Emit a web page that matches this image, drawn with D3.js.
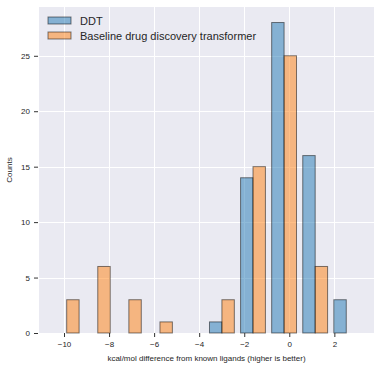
<!DOCTYPE html>
<html>
<head>
<meta charset="utf-8">
<script src="https://cdn.jsdelivr.net/npm/d3@7"></script>
<style>
  body { margin: 0; background: #fff; }
  svg text { font-family: "Liberation Sans", Arial, sans-serif; fill: #262626; }
</style>
</head>
<body>
<div id="chart"></div>
<script>
// histogram bins (left edges, kcal/mol) and counts per series
const binLefts = [-10.57, -9.19, -7.81, -6.43, -5.06, -3.68, -2.30, -0.92, 0.46, 1.84];
const binWidth = 1.378;
const ddtCounts = [0, 0, 0, 0, 0, 1, 14, 28, 16, 3];
const baselineCounts = [3, 6, 3, 1, 0, 3, 15, 25, 6, 0];
const seriesNames = ['DDT', 'Baseline drug discovery transformer'];
const xTicks = [-10, -8, -6, -4, -2, 0, 2];
const yTicks = [0, 5, 10, 15, 20, 25];

const width = 380;
const height = 370;
const margin = { top: 7, right: 6, bottom: 37, left: 39 };

const svg = d3.select('#chart')
  .append('svg')
  .attr('width', width)
  .attr('height', height);

const xScale = d3.scaleLinear()
  .domain([-11.11, 3.76])
  .range([margin.left, width - margin.right]);

const yScale = d3.scaleLinear()
  .domain([0, 29.4])
  .range([height - margin.bottom, margin.top]);

// background
svg.append('rect')
  .attr('x', margin.left)
  .attr('y', margin.top)
  .attr('width', width - margin.left - margin.right)
  .attr('height', height - margin.top - margin.bottom)
  .attr('fill', '#EAEAF2');

// gridlines
const grid = svg.append('g').attr('class', 'grid');
grid.selectAll('.vgrid')
  .data(xTicks)
  .join('line')
  .attr('x1', d => Math.round(xScale(d)) + 0.5)
  .attr('x2', d => Math.round(xScale(d)) + 0.5)
  .attr('y1', margin.top)
  .attr('y2', height - margin.bottom)
  .attr('stroke', '#fff')
  .attr('stroke-width', 1);
grid.selectAll('.hgrid')
  .data(yTicks)
  .join('line')
  .attr('x1', margin.left)
  .attr('x2', width - margin.right)
  .attr('y1', d => Math.round(yScale(d)) + 0.5)
  .attr('y2', d => Math.round(yScale(d)) + 0.5)
  .attr('stroke', '#fff')
  .attr('stroke-width', 1);

// bars: matplotlib style, rwidth 0.8 split between two series
const colors = ['#1f77b4', '#ff7f0e'];
const series = [ddtCounts, baselineCounts];
series.forEach((counts, s) => {
  const bars = binLefts.map((left, i) => ({
    x0: left + binWidth * (0.1 + 0.4 * s),
    x1: left + binWidth * (0.5 + 0.4 * s),
    count: counts[i]
  })).filter(d => d.count > 0);

  svg.append('g')
    .selectAll('rect')
    .data(bars)
    .join('rect')
    .attr('x', d => xScale(d.x0))
    .attr('y', d => yScale(d.count))
    .attr('width', d => xScale(d.x1) - xScale(d.x0))
    .attr('height', d => yScale(0) - yScale(d.count))
    .attr('fill', colors[s])
    .attr('fill-opacity', 0.5)
    .attr('stroke', '#000')
    .attr('stroke-opacity', 0.5)
    .attr('stroke-width', 1);
});

// axes
const fmt = d => d < 0 ? '\u2212' + Math.abs(d) : String(d);
const xAxis = svg.append('g')
  .attr('transform', `translate(0, ${height - margin.bottom})`)
  .call(d3.axisBottom(xScale).tickValues(xTicks).tickFormat(fmt).tickSize(4).tickPadding(4));
const yAxis = svg.append('g')
  .attr('transform', `translate(${margin.left - 1}, 0)`)
  .call(d3.axisLeft(yScale).tickValues(yTicks).tickSize(4).tickPadding(4));

[xAxis, yAxis].forEach(ax => {
  ax.select('.domain').remove();
  ax.selectAll('line').attr('stroke', '#333');
  ax.selectAll('text').attr('font-size', 8).attr('fill', '#333');
});

// axis labels
svg.append('text')
  .attr('x', (margin.left + width - margin.right) / 2)
  .attr('y', 361)
  .attr('text-anchor', 'middle')
  .attr('font-size', 8)
  .text('kcal/mol difference from known ligands (higher is better)');

svg.append('text')
  .attr('transform', `translate(12, ${(margin.top + height - margin.bottom) / 2}) rotate(-90)`)
  .attr('text-anchor', 'middle')
  .attr('font-size', 8)
  .text('Counts');

// legend
const legend = svg.append('g').attr('class', 'legend');
seriesNames.forEach((name, i) => {
  const ly = 17 + i * 15;
  legend.append('rect')
    .attr('x', 48)
    .attr('y', ly)
    .attr('width', 23)
    .attr('height', 7)
    .attr('fill', colors[i])
    .attr('fill-opacity', 0.5)
    .attr('stroke', '#000')
    .attr('stroke-opacity', 0.5);
  legend.append('text')
    .attr('x', 80)
    .attr('y', ly + 7.8)
    .attr('font-size', 11)
    .text(name);
});
</script>
</body>
</html>
